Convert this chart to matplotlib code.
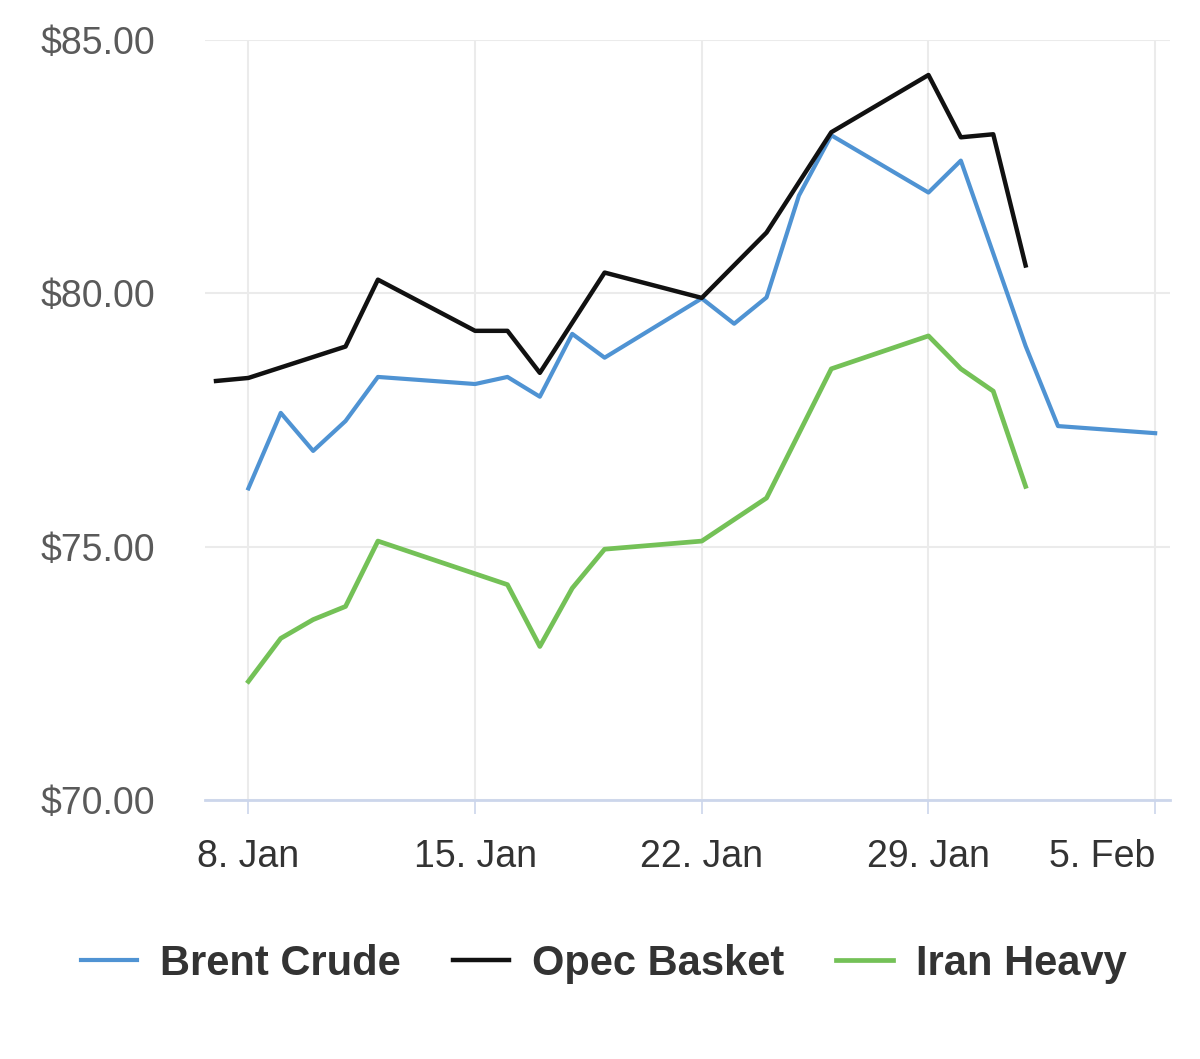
import matplotlib
import matplotlib.pyplot as plt
import matplotlib.dates as mdates
import numpy as np

matplotlib.use("Agg")
plt.rcParams["font.family"] = ["Liberation Sans", "DejaVu Sans"]

# (USD per barrel)
brent_dates = ["2018-01-08", "2018-01-09", "2018-01-10", "2018-01-11", "2018-01-12",
               "2018-01-15", "2018-01-16", "2018-01-17", "2018-01-18", "2018-01-19",
               "2018-01-22", "2018-01-23", "2018-01-24", "2018-01-25", "2018-01-26",
               "2018-01-29", "2018-01-30", "2018-02-01", "2018-02-02", "2018-02-05"]
brent_values = [76.15, 77.64, 76.89, 77.48, 78.35,
                78.21, 78.35, 77.96, 79.20, 78.73,
                79.90, 79.40, 79.92, 81.93, 83.12,
                81.99, 82.62, 78.96, 77.38, 77.24]

opec_dates = ["2018-01-07", "2018-01-08", "2018-01-11", "2018-01-12", "2018-01-15",
              "2018-01-16", "2018-01-17", "2018-01-19", "2018-01-22", "2018-01-24",
              "2018-01-26", "2018-01-29", "2018-01-30", "2018-01-31", "2018-02-01"]
opec_values = [78.27, 78.33, 78.95, 80.27, 79.26,
               79.26, 78.43, 80.41, 79.91, 81.20,
               83.18, 84.31, 83.08, 83.14, 80.55]

iran_dates = ["2018-01-08", "2018-01-09", "2018-01-10", "2018-01-11", "2018-01-12",
              "2018-01-16", "2018-01-17", "2018-01-18", "2018-01-19", "2018-01-22",
              "2018-01-24", "2018-01-26", "2018-01-29", "2018-01-30", "2018-01-31",
              "2018-02-01"]
iran_values = [72.34, 73.19, 73.56, 73.82, 75.11,
               74.25, 73.03, 74.18, 74.95, 75.11,
               75.96, 78.51, 79.16, 78.51, 78.07,
               76.19]

tick_dates = ["2018-01-08", "2018-01-15", "2018-01-22", "2018-01-29", "2018-02-05"]
tick_labels = ["8. Jan", "15. Jan", "22. Jan", "29. Jan", "5. Feb"]
y_ticks = [70, 75, 80, 85]


def to_dt(vals):
    return np.array(vals, dtype="datetime64[D]")


fig = plt.figure(figsize=(12, 10.59), dpi=100)
ax = fig.add_axes([0.171, 0.2446, 0.804, 0.7176])

ax.plot(to_dt(brent_dates), brent_values, color="#4f93d3", lw=3.0, label="Brent Crude")
ax.plot(to_dt(opec_dates), opec_values, color="#111111", lw=3.2, label="Opec Basket")
ax.plot(to_dt(iran_dates), iran_values, color="#74c157", lw=3.4, label="Iran Heavy")

ax.set_ylim(70, 85)
ax.set_xlim(np.datetime64("2018-01-06T16:00"), np.datetime64("2018-02-05T11:00"))

ax.set_yticks(y_ticks)
ax.set_yticklabels([f"${v:.2f}" for v in y_ticks], fontsize=27, color="#5a5a5a")
ax.set_xticks(mdates.date2num(to_dt(tick_dates)))
ax.set_xticklabels(tick_labels, fontsize=27, color="#333333")
# last label is kept inside the chart, as in the reference
last = ax.get_xticklabels()[-1]
last.set_horizontalalignment("right")
last.set_x(last.get_position()[0])

ax.tick_params(axis="y", length=0, pad=36)
ax.tick_params(axis="x", length=10, width=1.2, color="#ccd6eb", pad=18)

ax.grid(True, color="#ebebeb", lw=1.5)
ax.set_axisbelow(True)
for side in ["top", "right", "left"]:
    ax.spines[side].set_visible(False)
ax.spines["bottom"].set_color("#ccd6eb")
ax.spines["bottom"].set_linewidth(2)

fig.legend(loc="center", bbox_to_anchor=(0.503, 0.09), ncol=3, frameon=False,
           prop={"size": 30, "weight": "bold"}, labelcolor="#333333",
           handlelength=1.35, handletextpad=0.55, columnspacing=1.25)

fig.savefig("out.png", dpi=100, facecolor="white")
